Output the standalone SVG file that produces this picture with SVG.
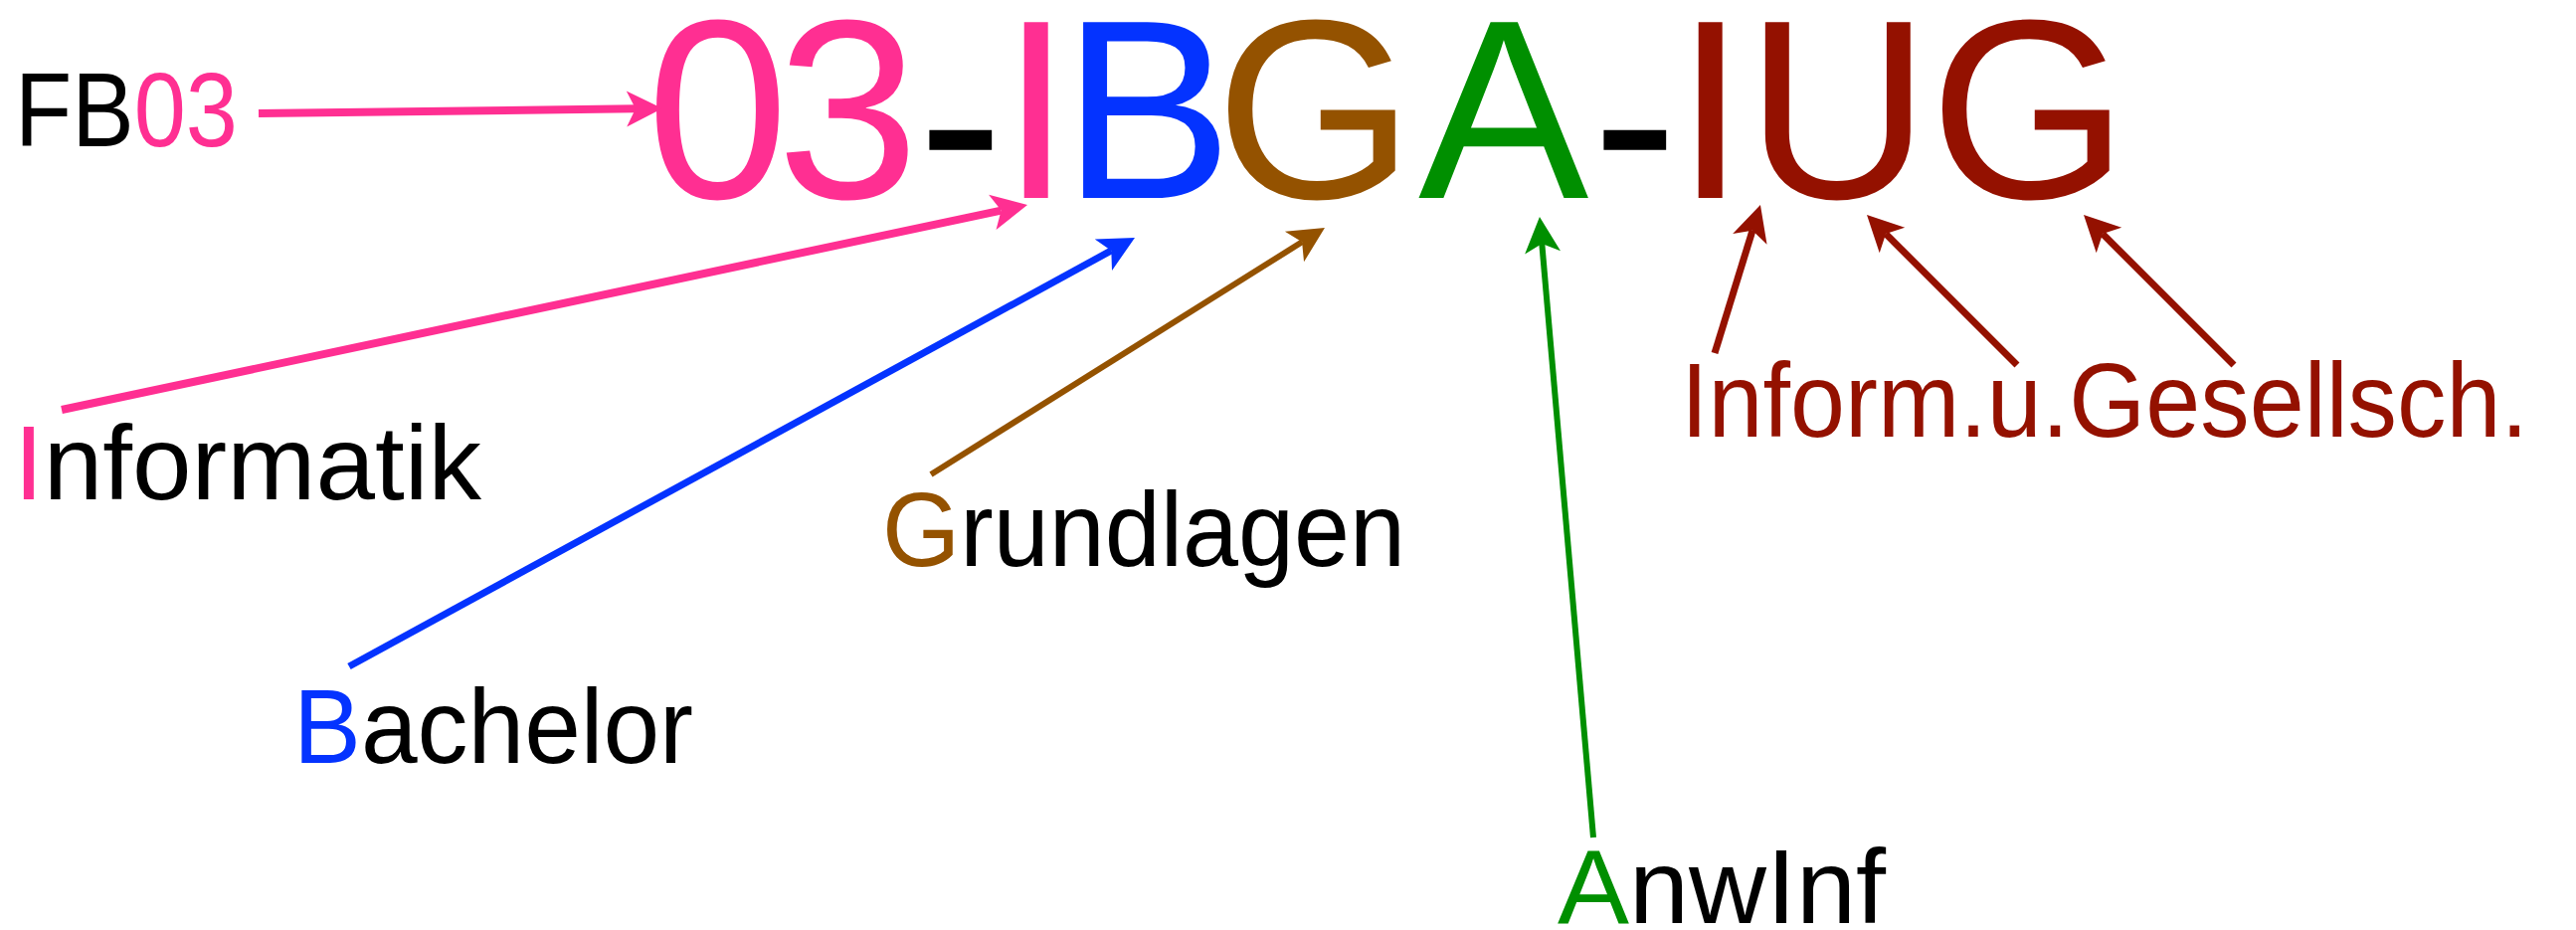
<svg xmlns="http://www.w3.org/2000/svg" width="2590" height="935" viewBox="0 0 2590 935">
<style>
text{font-family:"Liberation Sans",Arial,sans-serif;}
.title{font-size:257px;}
.lbl{font-size:106px;fill:#000;}
.pink{fill:#FF2F92;}
.blue{fill:#0433FF;}
.brown{fill:#945200;}
.green{fill:#008F00;}
.red{fill:#941100;}
.blk{fill:#000;}
.c{fill:none;stroke-linecap:butt;}
</style>
<defs>
<marker id="hPink" markerUnits="userSpaceOnUse" viewBox="-40 -20 44 40" markerWidth="44" markerHeight="40" refX="-27" refY="0" orient="auto"><path d="M0,0 L-36,-18 L-27,0 L-36,18 Z" fill="#FF2F92"/></marker>
<marker id="hBlue" markerUnits="userSpaceOnUse" viewBox="-40 -20 44 40" markerWidth="44" markerHeight="40" refX="-27" refY="0" orient="auto"><path d="M0,0 L-36,-18 L-27,0 L-36,18 Z" fill="#0433FF"/></marker>
<marker id="hBrown" markerUnits="userSpaceOnUse" viewBox="-40 -20 44 40" markerWidth="44" markerHeight="40" refX="-27" refY="0" orient="auto"><path d="M0,0 L-36,-18 L-27,0 L-36,18 Z" fill="#945200"/></marker>
<marker id="hGreen" markerUnits="userSpaceOnUse" viewBox="-40 -20 44 40" markerWidth="44" markerHeight="40" refX="-27" refY="0" orient="auto"><path d="M0,0 L-36,-18 L-27,0 L-36,18 Z" fill="#008F00"/></marker>
<marker id="hRed" markerUnits="userSpaceOnUse" viewBox="-40 -20 44 40" markerWidth="44" markerHeight="40" refX="-27" refY="0" orient="auto"><path d="M0,0 L-36,-18 L-27,0 L-36,18 Z" fill="#941100"/></marker>
</defs>

<g id="title">
<text class="title" y="199"><tspan x="650" class="pink">0</tspan><tspan x="781" class="pink">3</tspan><tspan x="923" y="209" class="blk">-</tspan><tspan x="1006" y="199" class="pink">I</tspan><tspan x="1068" class="blue">B</tspan><tspan x="1222" class="brown">G</tspan><tspan x="1426" class="green">A</tspan><tspan x="1601" y="209" class="blk">-</tspan><tspan x="1684" y="199" class="red">I</tspan><tspan x="1755" class="red">U</tspan><tspan x="1940" class="red">G</tspan></text>
</g>

<g id="fb03"><text class="lbl" x="15" y="147" textLength="224" lengthAdjust="spacingAndGlyphs"><tspan class="blk">FB</tspan><tspan class="pink">03</tspan></text></g>
<g id="informatik"><text class="lbl" x="14" y="502" textLength="470" lengthAdjust="spacingAndGlyphs"><tspan class="pink">I</tspan>nformatik</text></g>
<g id="bachelor"><text class="lbl" x="295" y="767" textLength="402" lengthAdjust="spacingAndGlyphs"><tspan class="blue">B</tspan>achelor</text></g>
<g id="grundlagen"><text class="lbl" x="887" y="569" textLength="526" lengthAdjust="spacingAndGlyphs"><tspan class="brown">G</tspan>rundlagen</text></g>
<g id="anwinf"><text class="lbl" x="1566" y="928" textLength="330" lengthAdjust="spacingAndGlyphs"><tspan class="green">A</tspan>nwInf</text></g>
<g id="iug"><text class="lbl red" x="1690" y="439" textLength="852" lengthAdjust="spacingAndGlyphs">Inform.u.Gesellsch.</text></g>

<g id="connectors">
<line class="c" x1="260" y1="114" x2="639" y2="109.3" stroke="#FF2F92" stroke-width="8" marker-end="url(#hPink)"/>
<line class="c" x1="62" y1="412" x2="1006.6" y2="211.6" stroke="#FF2F92" stroke-width="8" marker-end="url(#hPink)"/>
<line class="c" x1="351" y1="670" x2="1117.3" y2="251.9" stroke="#0433FF" stroke-width="7" marker-end="url(#hBlue)"/>
<line class="c" x1="936" y1="477" x2="1309.1" y2="243.3" stroke="#945200" stroke-width="6" marker-end="url(#hBrown)"/>
<line class="c" x1="1602" y1="842" x2="1550.3" y2="244.9" stroke="#008F00" stroke-width="6" marker-end="url(#hGreen)"/>
<line class="c" x1="1724" y1="355" x2="1762" y2="231.8" stroke="#941100" stroke-width="7" marker-end="url(#hRed)"/>
<line class="c" x1="2028" y1="367" x2="1896.1" y2="235.1" stroke="#941100" stroke-width="7" marker-end="url(#hRed)"/>
<line class="c" x1="2246" y1="367" x2="2114.1" y2="235.1" stroke="#941100" stroke-width="7" marker-end="url(#hRed)"/>
</g>
</svg>
